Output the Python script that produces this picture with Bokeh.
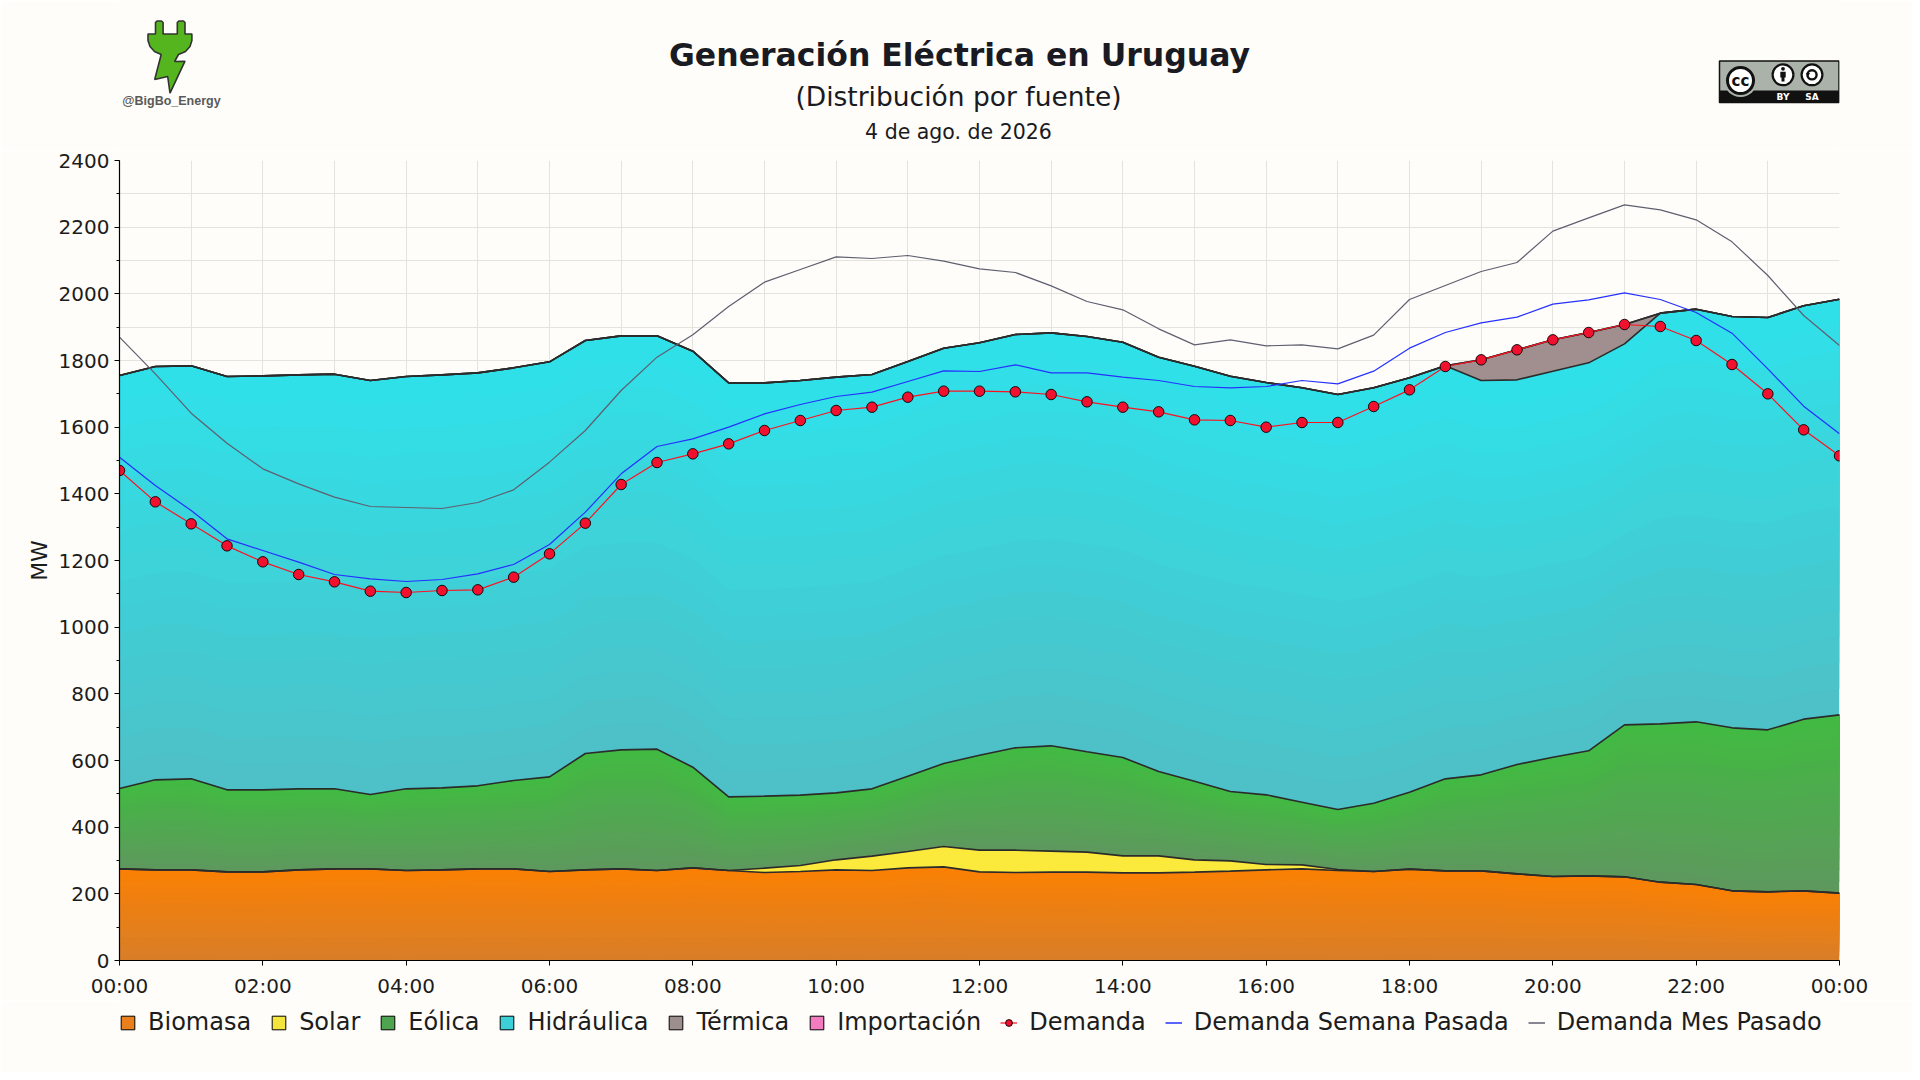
import math
import numpy as np
from bokeh.plotting import figure
from bokeh.layouts import column
from bokeh.models import Range1d, FixedTicker, Label, Legend, LegendItem
from bokeh.embed import file_html
from bokeh.resources import INLINE

# ---------------- data ----------------
times = ["00:00", "00:30", "01:00", "01:30", "02:00", "02:30", "03:00", "03:30",
         "04:00", "04:30", "05:00", "05:30", "06:00", "06:30", "07:00", "07:30",
         "08:00", "08:30", "09:00", "09:30", "10:00", "10:30", "11:00", "11:30",
         "12:00", "12:30", "13:00", "13:30", "14:00", "14:30", "15:00", "15:30",
         "16:00", "16:30", "17:00", "17:30", "18:00", "18:30", "19:00", "19:30",
         "20:00", "20:30", "21:00", "21:30", "22:00", "22:30", "23:00", "23:30",
         "24:00"]

biomasa = [275, 272, 272, 266, 266, 272, 275, 275, 270, 272, 275, 275, 267, 272, 275, 270,
           278, 270, 264, 267, 272, 270, 278, 281, 266, 264, 265, 265, 263, 263, 265, 268,
           272, 275, 270, 267, 274, 269, 269, 260, 252, 254, 251, 235, 228, 209, 206, 209,
           202]
solar = [0, 0, 0, 0, 0, 0, 0, 0, 0, 0, 0, 0, 0, 0, 0, 0,
         0, 0, 13, 18, 30, 43, 49, 61, 65, 67, 63, 60, 51, 51, 37, 31,
         16, 12, 3, 0, 0, 0, 0, 0, 0, 0, 0, 0, 0, 0, 0, 0,
         0]
eolica = [241, 270, 273, 246, 246, 243, 240, 223, 245, 246, 249, 265, 284, 349, 357, 364,
          302, 221, 216, 211, 201, 202, 226, 249, 285, 307, 316, 301, 295, 253, 236, 208,
          209, 188, 180, 205, 231, 276, 288, 328, 358, 375, 456, 475, 488, 489, 486, 515,
          535]
hidraulica = [1239, 1240, 1239, 1240, 1242, 1242, 1244, 1242, 1237, 1239, 1239, 1238, 1245, 1239, 1242, 1240,
              1248, 1242, 1240, 1244, 1247, 1243, 1244, 1246, 1237, 1240, 1239, 1246, 1246, 1243, 1245, 1246,
              1237, 1243, 1245, 1246, 1243, 1239, 1183, 1154, 1158, 1164, 1143, 1232, 1238, 1234, 1237, 1240,
              1247]
termica = [0, 0, 0, 0, 0, 0, 0, 0, 0, 0, 0, 0, 0, 0, 0, 0,
           0, 0, 0, 0, 0, 0, 0, 0, 0, 0, 0, 0, 0, 0, 0, 0,
           0, 0, 0, 0, 0, 0, 62, 90, 94, 91, 58, 0, 0, 0, 0, 0,
           0]
importacion = [0, 0, 0, 0, 0, 0, 0, 0, 0, 0, 0, 0, 0, 0, 0, 0,
               0, 0, 0, 0, 0, 0, 0, 0, 0, 0, 0, 0, 0, 0, 0, 0,
               0, 0, 0, 0, 0, 0, 0, 0, 0, 0, 0, 0, 0, 0, 0, 0,
               0]
demanda = [1470, 1376, 1310, 1244, 1196, 1158, 1136, 1108, 1104, 1110, 1112, 1150, 1220, 1312, 1428, 1494,
           1520, 1550, 1590, 1620, 1650, 1660, 1690, 1708, 1708, 1706, 1698, 1676, 1660, 1646, 1622, 1620,
           1600, 1614, 1614, 1662, 1712, 1782, 1802, 1832, 1862, 1884, 1908, 1902, 1860, 1788, 1700, 1592,
           1514]
demanda_semana = [1510, 1425, 1350, 1265, 1230, 1195, 1158, 1145, 1137, 1143, 1160, 1188, 1248, 1345, 1460, 1542,
                  1565, 1600, 1640, 1668, 1692, 1705, 1737, 1769, 1767, 1787, 1763, 1763, 1750, 1740, 1722, 1718,
                  1722, 1740, 1730, 1768, 1837, 1884, 1913, 1930, 1969, 1982, 2003, 1983, 1944, 1882, 1775, 1663,
                  1580]
demanda_mes = [1870, 1760, 1642, 1552, 1475, 1430, 1390, 1362, 1359, 1356, 1374, 1412, 1495, 1590, 1710, 1810,
               1877, 1962, 2035, 2073, 2111, 2106, 2115, 2098, 2075, 2064, 2024, 1977, 1952, 1895, 1847, 1862,
               1844, 1847, 1835, 1876, 1983, 2025, 2067, 2094, 2188, 2228, 2267, 2252, 2222, 2156, 2055, 1935,
               1845]

tick_hours = [0, 2, 4, 6, 8, 10, 12, 14, 16, 18, 20, 22, 24]
tick_labels = ["00:00", "02:00", "04:00", "06:00", "08:00", "10:00", "12:00",
               "14:00", "16:00", "18:00", "20:00", "22:00", "00:00"]

series_names = ["Biomasa", "Solar", "Eólica", "Hidráulica", "Térmica", "Importación"]
line_names = ["Demanda", "Demanda Semana Pasada", "Demanda Mes Pasado"]

title_text = "Generación Eléctrica en Uruguay"
subtitle_text = "(Distribución por fuente)"
date_text = "4 de ago. de 2026"
handle_text = "@BigBo_Energy"

# ---------------- style ----------------
FONT = "DejaVu Sans"
BG = "#fefdf9"
EDGE = "#2b2b2b"
W = 1912
HEAD_H = 150
MAIN_H = 850
FOOT_H = 72
FRAME_L, FRAME_R = 119, 1839
swatch_colors = ["#ea801c", "#f4e53e", "#4fa44f", "#3dcfd7", "#9e8f8f", "#f17dc0"]
C_DEM = "#ff1020"
C_SEM = "#2530ff"
C_MES = "#5e5f70"


def hx(c):
    c = c.lstrip("#")
    return [int(c[i:i + 2], 16) for i in (0, 2, 4)]


def mix(c1, c2, t):
    a, b = hx(c1), hx(c2)
    return "#" + "".join("%02x" % int(round(a[i] + (b[i] - a[i]) * t)) for i in range(3))


# ---------------- header (title, logo, licence badge) ----------------
# the column layout aligns this frame with the chart frame, so its x range is page pixels
head = figure(width=W, height=HEAD_H, x_range=Range1d(FRAME_L, FRAME_R), y_range=Range1d(0, HEAD_H),
              output_backend="svg", toolbar_location=None, min_border=0,
              background_fill_color=BG, border_fill_color=BG, outline_line_color=None)
head.axis.visible = False
head.grid.visible = False


def hy(Y):
    return HEAD_H - Y


def hlabel(text, X, Y, size, style="normal", color="#1a1a22", font=FONT):
    head.add_layout(Label(x=X, y=hy(Y), text=text, text_font=font, text_font_size=size,
                          text_font_style=style, text_color=color, text_align="center",
                          text_baseline="middle"))


def hpatch(pts, fill, line=None, lw=1.0):
    head.patch([x for x, y in pts], [hy(y) for x, y in pts], fill_color=fill,
               line_color=line, line_width=lw)


def hcirc(cx, cy, r, fill, line=None, lw=1.0):
    head.circle([cx], [hy(cy)], radius=r, fill_color=fill, line_color=line, line_width=lw)


hlabel(title_text, 959, 54.5, "31.5px", style="bold")
hlabel(subtitle_text, 958, 96, "26.5px")
hlabel(date_text, 958, 131, "20.5px")

plug = [(147.5, 33.5), (155, 33.5), (155, 22), (156.5, 20.5), (161, 20.5), (162.6, 22), (162.6, 33.5),
        (176.8, 33.5), (176.8, 22), (178.3, 20.5), (183, 20.5), (184.5, 22), (184.5, 33.5), (191.4, 33.5),
        (191.4, 40), (189.5, 46), (185, 51), (178, 54), (174.1, 61), (184.5, 60.7), (169.5, 92.7),
        (167.2, 76), (154.2, 79), (160.7, 54), (154, 51), (149.5, 46), (147.5, 40)]
hpatch(plug, "#55b51e", "#333333", 1.6)
hlabel(handle_text, 171, 100, "12.5px", style="bold", color="#5a5a5a", font="Liberation Sans")

hpatch([(1719, 60.5), (1838.5, 60.5), (1838.5, 102), (1719, 102)], "#abb2aa", "#111111", 1.5)
hpatch([(1719, 90), (1838.5, 90), (1838.5, 102), (1719, 102)], "#111111")
hcirc(1740, 80, 16.5, "#abb2aa")
hcirc(1740, 80, 13.0, "#ffffff", "#111111", 3.0)
hlabel("cc", 1740, 80, "15px", style="bold", color="#111111")
hcirc(1782.5, 74.3, 10.4, "#ffffff", "#111111", 2.2)
hcirc(1811.5, 74.3, 10.4, "#ffffff", "#111111", 2.2)
hcirc(1782.5, 68.3, 1.9, "#111111")
hpatch([(1779.8, 71.2), (1785.2, 71.2), (1785.2, 77), (1784, 77), (1784, 81), (1781, 81), (1781, 77),
        (1779.8, 77)], "#111111")
hcirc(1811.5, 74.3, 4.6, None, "#111111", 2.4)
hpatch([(1805.5, 72.5), (1809.5, 72.5), (1807.5, 76)], "#111111")
hlabel("BY", 1782.5, 96.5, "9px", style="bold", color="#ffffff")
hlabel("SA", 1811.5, 96.5, "9px", style="bold", color="#ffffff")

# ---------------- main chart ----------------
hours = np.array([int(t[:2]) + int(t[3:]) / 60.0 for t in times])
b = np.array(biomasa, dtype=float)
s = np.array(solar, dtype=float)
e = np.array(eolica, dtype=float)
h = np.array(hidraulica, dtype=float)
tr = np.array(termica, dtype=float)
im = np.array(importacion, dtype=float)

c0 = np.zeros_like(b)
c1 = c0 + b
c2 = c1 + s
c3 = c2 + e
c4 = c3 + h
c5 = c4 + tr
c6 = c5 + im

p = figure(width=W, height=MAIN_H, x_range=Range1d(0, 24), y_range=Range1d(0, 2400),
           output_backend="svg", toolbar_location=None,
           min_border_left=FRAME_L, min_border_right=W - FRAME_R, min_border_top=10,
           min_border_bottom=MAIN_H - 10 - 800,
           background_fill_color=BG, border_fill_color=BG, outline_line_color=None)

NB = 16
layers = [
    (c0, c1, "#d87e28", "#fa8004"),
    (c2, c3, "#5e985e", "#41ba41"),
    (c3, c4, "#4ec0c6", "#2fe1ea"),
]
for lo, up, cbot, ctop in layers:
    for j in range(NB):
        f = j / NB
        p.varea(x=hours, y1=lo + (up - lo) * f, y2=up, fill_color=mix(cbot, ctop, (j + 0.5) / NB))
p.varea(x=hours, y1=c1, y2=c2, fill_color="#fbe93c")
p.varea(x=hours, y1=c4, y2=c5, fill_color="#a18f8f")
p.varea(x=hours, y1=c5, y2=c6, fill_color="#f07cbf")

for top in (c1, c2, c3, c4, c5, c6):
    p.line(hours, top, line_color=EDGE, line_width=1.6)

p.line(hours, demanda_mes, line_color=C_MES, line_width=1.2)
p.line(hours, demanda_semana, line_color=C_SEM, line_width=1.2)
p.line(hours, demanda, line_color=C_DEM, line_width=1.2)
p.scatter(hours, demanda, marker="circle", size=10.5, fill_color="#f2102f",
          line_color="black", line_width=0.9)

p.xaxis.ticker = FixedTicker(ticks=tick_hours)
p.xaxis.major_label_overrides = {hv: lab for hv, lab in zip(tick_hours, tick_labels)}
p.yaxis.ticker = FixedTicker(ticks=list(range(0, 2401, 200)), minor_ticks=list(range(0, 2401, 100)))
p.xgrid.ticker = FixedTicker(ticks=list(range(0, 25)))
p.ygrid.ticker = FixedTicker(ticks=list(range(0, 2401, 100)))
for g in (p.xgrid, p.ygrid):
    g.grid_line_color = "#e5e3de"
    g.grid_line_width = 1
for ax in (p.xaxis, p.yaxis):
    ax.axis_line_color = "black"
    ax.axis_line_width = 1.2
    ax.major_tick_line_color = "black"
    ax.major_tick_in = 0
    ax.major_tick_out = 5
    ax.major_label_text_font = FONT
    ax.major_label_text_font_size = "20px"
    ax.major_label_text_color = "#1c1c1c"
p.xaxis.minor_tick_line_color = None
p.xaxis.major_label_standoff = 8
p.yaxis.minor_tick_line_color = "black"
p.yaxis.minor_tick_in = 0
p.yaxis.minor_tick_out = 3
p.yaxis.major_label_standoff = 5
p.yaxis.axis_label = "MW"
p.yaxis.axis_label_text_font = FONT
p.yaxis.axis_label_text_font_size = "22px"
p.yaxis.axis_label_text_font_style = "normal"
p.yaxis.axis_label_text_color = "#1c1c1c"
p.yaxis.axis_label_standoff = 4

# ---------------- footer legend ----------------
foot = figure(width=W, height=FOOT_H, x_range=Range1d(0, 1), y_range=Range1d(0, 1),
              output_backend="svg", toolbar_location=None, min_border=0,
              background_fill_color=BG, border_fill_color=BG, outline_line_color=None)
foot.axis.visible = False
foot.grid.visible = False
nan1 = np.array([np.nan])
items = []
for name, col in zip(series_names, swatch_colors):
    r = foot.rect(x=nan1, y=nan1, width=1, height=1, fill_color=col, line_color="black", line_width=1)
    items.append(LegendItem(label=name, renderers=[r]))
rl = foot.line(x=nan1, y=nan1, line_color=C_DEM, line_width=1.2)
rm = foot.scatter(x=nan1, y=nan1, marker="circle", size=10, fill_color="#f2102f", line_color="black",
                  line_width=0.9)
items.append(LegendItem(label=line_names[0], renderers=[rl, rm]))
rs = foot.line(x=nan1, y=nan1, line_color=C_SEM, line_width=1.5)
items.append(LegendItem(label=line_names[1], renderers=[rs]))
rmes = foot.line(x=nan1, y=nan1, line_color=C_MES, line_width=1.5)
items.append(LegendItem(label=line_names[2], renderers=[rmes]))

legend = Legend(items=items, orientation="horizontal", location=(0, 36),
                label_text_font=FONT, label_text_font_size="24px", label_text_color="#1c1c1c",
                glyph_width=17, glyph_height=17, label_standoff=12, spacing=19, padding=0, margin=0,
                border_line_color=None, background_fill_alpha=0)
foot.add_layout(legend, "center")

layout = column(head, p, foot, spacing=0)
open("out.html", "w").write(file_html(layout, INLINE))
